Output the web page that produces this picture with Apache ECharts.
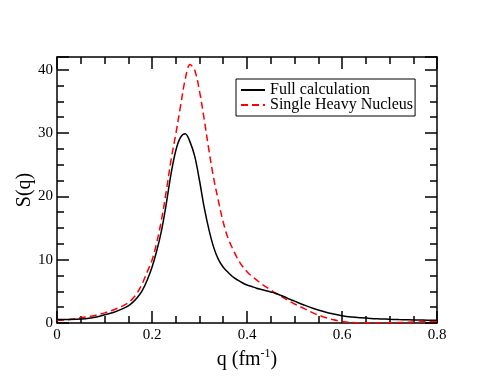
<!DOCTYPE html>
<html><head><meta charset="utf-8">
<script src="https://cdn.jsdelivr.net/npm/echarts@6/dist/echarts.min.js"></script>
<style>html,body{margin:0;padding:0;background:#fff}#c{width:493px;height:381px}</style>
</head><body><div id="c"></div>
<script>
const q = [0, 0.02, 0.04, 0.06, 0.08, 0.10, 0.12, 0.14, 0.15, 0.16, 0.17, 0.18, 0.19, 0.20, 0.21, 0.22, 0.23, 0.24, 0.25, 0.26, 0.27, 0.28, 0.29, 0.30, 0.31, 0.32, 0.33, 0.34, 0.35, 0.36, 0.37, 0.38, 0.39, 0.40, 0.41, 0.42, 0.43, 0.44, 0.45, 0.46, 0.47, 0.48, 0.49, 0.50, 0.52, 0.54, 0.56, 0.58, 0.60, 0.62, 0.64, 0.66, 0.68, 0.70, 0.72, 0.74, 0.76, 0.78, 0.80];
const sFull = [0.55, 0.56, 0.58, 0.68, 0.9, 1.3, 1.7, 2.3, 2.7, 3.3, 4.1, 5.2, 6.8, 8.8, 11.4, 14.6, 18.8, 23.5, 27.2, 29.3, 29.9, 28.6, 26.3, 22.5, 18.2, 14.7, 11.9, 10.0, 8.8, 8.0, 7.3, 6.8, 6.35, 6.0, 5.75, 5.5, 5.3, 5.1, 4.9, 4.7, 4.4, 4.1, 3.75, 3.45, 2.85, 2.3, 1.85, 1.45, 1.15, 0.95, 0.82, 0.72, 0.65, 0.59, 0.54, 0.5, 0.47, 0.45, 0.43];
const sSingle = [0.4, 0.5, 0.7, 0.95, 1.2, 1.6, 2.1, 2.75, 3.2, 3.9, 4.9, 6.3, 8.1, 9.9, 12.7, 16.3, 20.8, 25.7, 29.8, 34.2, 38.5, 40.8, 39.9, 36.6, 32.1, 27.2, 22.8, 19.2, 15.9, 13.4, 11.7, 10.2, 9.0, 8.1, 7.4, 6.8, 6.2, 5.7, 5.2, 4.7, 4.3, 3.85, 3.4, 3.0, 2.3, 1.55, 1.0, 0.55, 0.25, 0.08, 0.02, 0.02, 0.03, 0.05, 0.08, 0.12, 0.17, 0.21, 0.25];
const xTicks = [0, 0.2, 0.4, 0.6, 0.8];
const yTicks = [0, 10, 20, 30, 40];
const seriesNames = ['Full calculation', 'Single Heavy Nucleus'];

const font = 'Liberation Serif';
const pairs = (xs, ys) => xs.map((x, i) => [x, ys[i]]);
const axisCommon = {
  nameMoveOverlap: false,
  axisLine: {show: true, onZero: false, lineStyle: {color: '#000', width: 1.5}},
  axisTick: {show: true, inside: true, length: 12, lineStyle: {color: '#000', width: 1.5}},
  minorTick: {show: true, splitNumber: 4, length: 7, lineStyle: {color: '#000', width: 1.5}},
  splitLine: {show: false}
};
const chart = echarts.init(document.getElementById('c'), null, {renderer: 'canvas'});
chart.setOption({
  backgroundColor: '#fff',
  animation: false,
  grid: {left: 57, right: 56, top: 57, bottom: 58},
  legend: {
    left: 236, top: 79, orient: 'vertical',
    data: seriesNames,
    itemWidth: 24, itemHeight: 10, itemGap: -1,
    padding: [3, 2, 3, 4],
    borderColor: '#000', borderWidth: 1, backgroundColor: '#fff', borderRadius: 0,
    itemStyle: {opacity: 0, borderWidth: 0},
    textStyle: {fontFamily: font, fontSize: 16, color: '#000'}
  },
  xAxis: [
    Object.assign({}, axisCommon, {
      type: 'value', min: xTicks[0], max: xTicks[xTicks.length - 1], interval: 0.2, position: 'bottom',
      name: 'q (fm{sup|-1})', nameLocation: 'middle', nameGap: 25,
      nameTextStyle: {fontFamily: font, fontSize: 20, color: '#000', rich: {sup: {fontFamily: font, fontSize: 12, verticalAlign: 'top', padding: [0, 0, 11, 0], color: '#000'}}},
      axisLabel: {fontFamily: font, fontSize: 15, color: '#000', margin: 5}
    }),
    Object.assign({}, axisCommon, {
      type: 'value', min: xTicks[0], max: xTicks[xTicks.length - 1], interval: 0.2, position: 'top',
      axisLabel: {show: false}
    })
  ],
  yAxis: [
    Object.assign({}, axisCommon, {
      type: 'value', min: 0, max: 42, interval: 10, position: 'left',
      name: 'S(q)', nameLocation: 'middle', nameGap: 22,
      nameTextStyle: {fontFamily: font, fontSize: 20, color: '#000'},
      axisLabel: {fontFamily: font, fontSize: 15, color: '#000', margin: 4,
        formatter: v => (yTicks.indexOf(v) >= 0 ? String(v) : '')}
    }),
    Object.assign({}, axisCommon, {
      type: 'value', min: 0, max: 42, interval: 10, position: 'right',
      axisLabel: {show: false}
    })
  ],
  series: [
    {name: seriesNames[0], type: 'line', data: pairs(q, sFull), smooth: 0.35, showSymbol: false, symbol: 'none',
     lineStyle: {color: '#000', width: 1.5}, itemStyle: {color: '#000'}, z: 3},
    {name: seriesNames[1], type: 'line', data: pairs(q, sSingle), smooth: 0.35, showSymbol: false, symbol: 'none',
     lineStyle: {color: '#ff0000', width: 1.5, type: [7, 4]}, itemStyle: {color: '#ff0000'}, z: 2}
  ]
});
</script></body></html>
